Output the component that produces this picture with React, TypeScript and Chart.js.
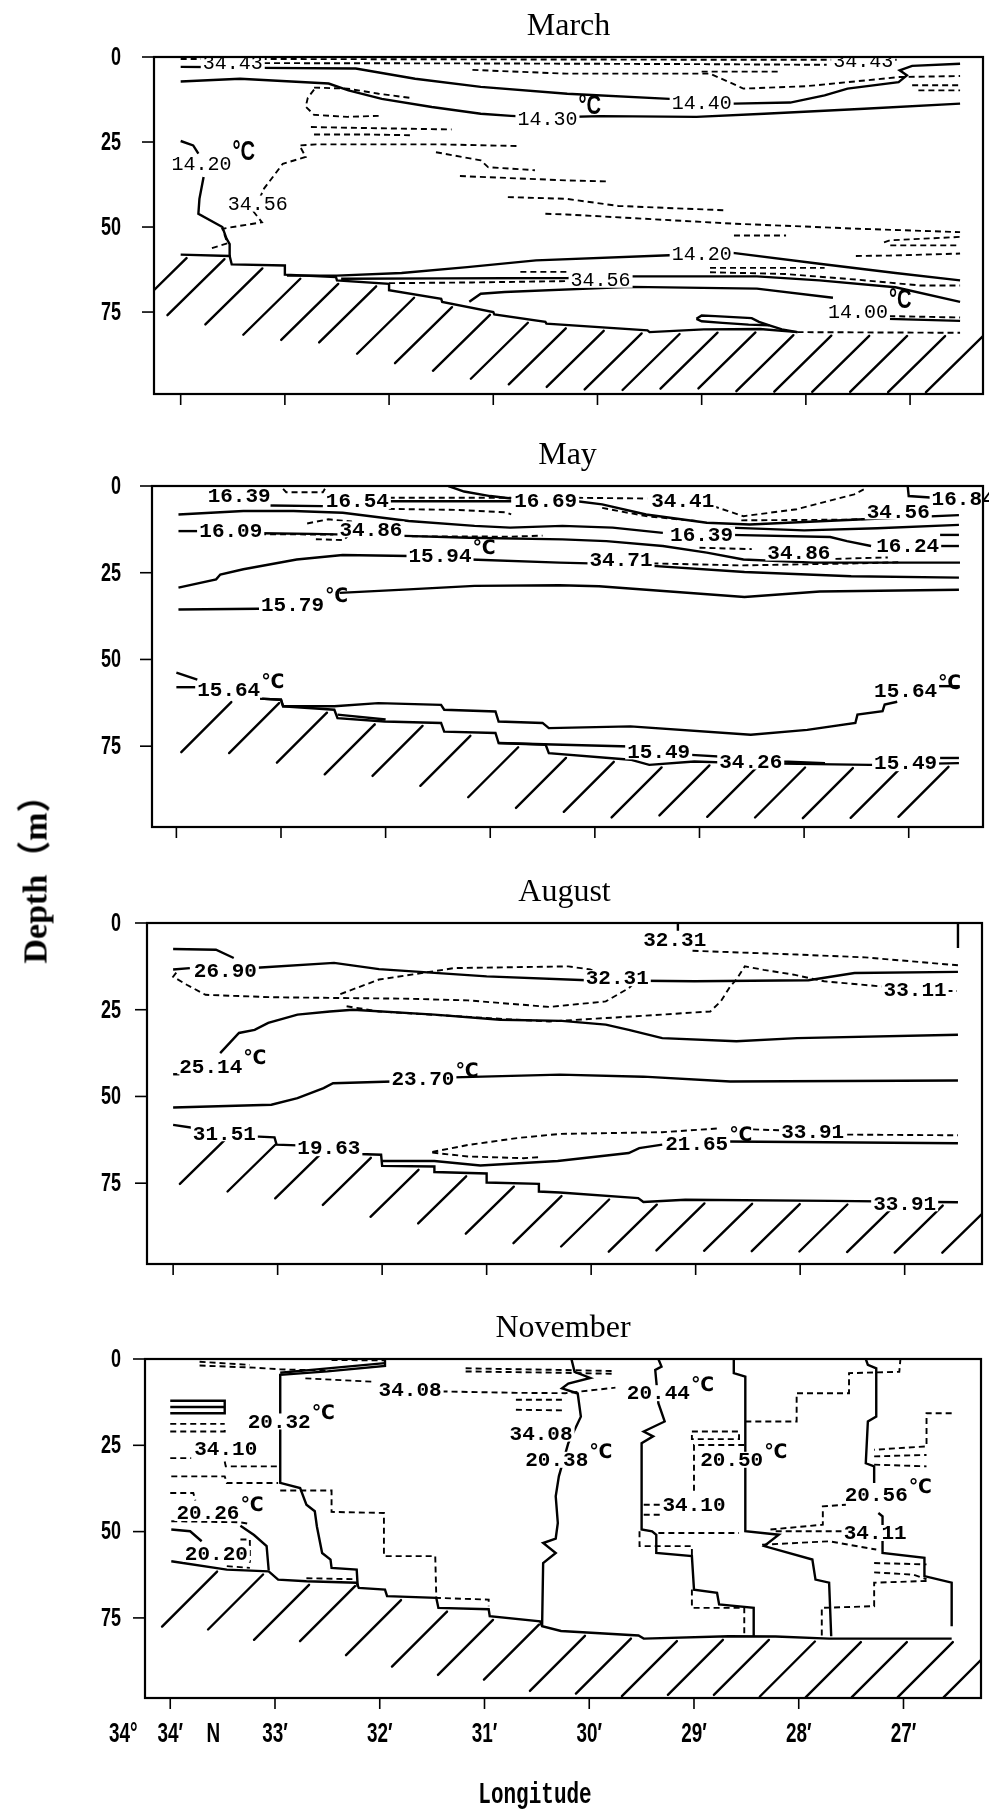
import React, { useEffect, useRef } from "react";
import { Chart, registerables } from "chart.js";

Chart.register(...registerables);

// A point of a section line: [longitude in minutes east of 34°, depth in m]
type Pt = [number, number];

// ---------- shared axes ----------
const lonTicks = [34, 33, 32, 31, 30, 29, 28, 27];
const lonTickLabels = ["34′", "33′", "32′", "31′", "30′", "29′", "28′", "27′"];
const depthTicks = [0, 25, 50, 75];
const depthTickLabels = ["0", "25", "50", "75"];

// ---------- March ----------
const marchSeabed: Pt[] = [[34.0, 58.1], [33.53, 58.5], [33.51, 61.0], [33.0, 61.3], [33.0, 64.0], [32.51, 64.7], [32.5, 65.7], [32.0, 66.7], [32.0, 68.6], [31.5, 71.1], [31.49, 72.0], [31.0, 75.0], [30.99, 75.7], [30.5, 77.9], [30.49, 78.4], [29.52, 80.4], [29.5, 80.9], [28.98, 80.1], [28.44, 80.0], [28.08, 80.9]];
const marchSeabedTail: Pt[] = [[28.08, 80.9], [26.52, 81.1]];
const marchT1440: Pt[] = [[34.0, 2.9], [33.5, 3.0], [33.21, 3.2], [32.32, 3.4], [31.75, 6.4], [31.12, 8.8], [30.29, 10.8], [29.31, 12.3], [28.69, 13.7], [28.15, 13.4], [27.82, 11.3], [27.6, 9.3], [27.11, 7.4], [27.03, 5.4], [27.1, 3.9], [26.98, 2.6], [26.52, 2.0]];
const marchT1430: Pt[] = [[34.0, 7.2], [33.43, 6.4], [32.58, 7.8], [32.39, 9.8], [32.07, 12.3], [31.59, 14.7], [31.12, 16.7], [30.83, 17.3], [30.5, 17.8], [29.97, 17.4], [29.05, 17.6], [28.4, 16.7], [27.44, 15.2], [26.52, 13.7]];
const marchT1420a: Pt[] = [[34.0, 24.7], [33.88, 26.0], [33.83, 28.4]];
const marchT1420b: Pt[] = [[33.78, 35.3], [33.82, 41.7], [33.83, 46.1], [33.6, 50.0], [33.56, 53.4], [33.53, 55.0], [33.53, 58.5]];
const marchT1420c: Pt[] = [[32.98, 64.3], [32.5, 64.3], [31.88, 63.5], [31.25, 61.8], [30.59, 59.8], [29.31, 58.3], [28.7, 57.6], [27.87, 60.8], [27.14, 63.5], [26.52, 65.7]];
const marchS3456low: Pt[] = [[32.46, 65.2], [31.5, 65.1], [30.28, 65.0], [29.68, 64.5], [28.47, 64.5], [27.87, 65.7], [27.14, 67.7], [26.52, 72.0]];
const marchT1400a: Pt[] = [[31.23, 72.0], [31.12, 69.6], [30.89, 69.1], [29.68, 67.6], [28.47, 68.1], [27.74, 70.8]];
const marchT1400b: Pt[] = [[27.21, 77.0], [26.52, 77.6]];
const marchLensTop: Pt[] = [[29.05, 77.0], [29.0, 76.0], [28.87, 76.2], [28.52, 76.8], [28.45, 77.9], [28.35, 78.9], [28.23, 80.1], [28.08, 80.9]];
const marchLensLow: Pt[] = [[29.05, 77.0], [29.0, 77.7], [28.8, 78.2], [28.55, 78.7], [28.35, 78.9]];
const marchS3443: Pt[] = [[34.0, 0.6], [33.0, 0.6], [31.0, 0.7], [29.0, 0.8], [27.1, 0.8]];
const marchS2: Pt[] = [[33.2, 1.8], [31.0, 1.9], [29.0, 2.1], [27.8, 2.3]];
const marchS3: Pt[] = [[31.2, 3.8], [30.3, 4.9], [28.92, 4.9], [28.75, 7.2], [28.6, 9.3], [28.0, 8.6], [27.1, 5.9], [26.52, 5.6]];
const marchS4: Pt[] = [[29.0, 4.3], [28.25, 4.3]];
const marchS5: Pt[] = [[26.98, 8.3], [26.52, 8.3]];
const marchS6: Pt[] = [[26.92, 9.8], [26.52, 9.8]];
const marchS7: Pt[] = [[32.72, 9.0], [32.4, 9.3], [32.1, 10.8], [31.8, 12.0]];
const marchS8: Pt[] = [[32.72, 9.6], [32.78, 12.0], [32.8, 14.6], [32.72, 17.0], [32.4, 17.6], [32.1, 17.3]];
const marchS9: Pt[] = [[32.75, 20.6], [32.2, 20.9], [31.4, 21.3]];
const marchS10: Pt[] = [[32.72, 22.8], [32.2, 22.8], [31.8, 23.0]];
const marchS3456: Pt[] = [[33.7, 56.2], [33.55, 54.8], [33.6, 50.5], [33.22, 48.6], [33.3, 45.5], [33.2, 38.7], [33.02, 31.4], [32.8, 29.4], [32.86, 26.0], [32.7, 25.7], [31.5, 25.7], [30.74, 26.2]];
const marchS12: Pt[] = [[31.55, 28.0], [31.12, 30.4], [31.05, 32.4], [30.6, 33.3]];
const marchS13: Pt[] = [[31.32, 35.0], [30.29, 36.3], [29.9, 36.6]];
const marchS14: Pt[] = [[30.86, 41.2], [30.3, 41.7], [29.8, 43.8], [28.76, 45.1]];
const marchS15: Pt[] = [[30.5, 46.1], [30.3, 46.3], [28.7, 49.0], [27.5, 50.5], [26.52, 51.5]];
const marchS16: Pt[] = [[28.69, 52.5], [28.19, 52.5]];
const marchS17: Pt[] = [[27.25, 54.5], [27.19, 53.9], [26.52, 52.9]];
const marchS18: Pt[] = [[27.19, 55.4], [26.52, 55.4]];
const marchS19: Pt[] = [[27.52, 58.5], [27.2, 58.4], [26.52, 57.8]];
const marchS20: Pt[] = [[28.92, 62.0], [27.82, 62.0]];
const marchS21: Pt[] = [[28.92, 63.3], [28.2, 63.8], [27.5, 65.5], [26.9, 67.2], [26.52, 67.2]];
const marchS22: Pt[] = [[27.2, 76.2], [26.52, 76.6]];
const marchS23: Pt[] = [[30.74, 63.2], [30.29, 63.2]];
const marchS24: Pt[] = [[32.0, 66.5], [31.2, 66.3], [30.3, 65.9]];

// ---------- May ----------
const maySeabed: Pt[] = [[33.2, 61.3], [33.0, 61.6], [32.98, 63.5], [32.49, 64.5], [32.46, 66.9], [32.01, 67.9], [31.47, 68.3], [31.44, 70.8], [30.95, 71.2], [30.92, 74.1], [30.47, 74.6], [30.44, 77.0], [29.66, 78.9], [29.48, 80.4], [29.05, 79.4], [28.57, 79.9], [27.37, 80.4], [26.52, 79.9]];
const mayT1564: Pt[] = [[33.2, 61.3], [33.0, 61.6], [32.98, 63.5], [32.49, 63.5], [32.07, 62.6], [31.47, 63.1], [31.44, 64.5], [30.95, 65.0], [30.92, 67.9], [30.5, 68.3], [30.44, 69.8], [29.66, 69.3], [28.51, 71.7], [27.97, 70.3], [27.51, 68.3], [27.49, 65.9], [27.25, 64.9], [27.23, 63.0], [27.11, 62.2]];
const mayT1564a: Pt[] = [[34.0, 53.8], [33.8, 55.8]];
const mayT1564b: Pt[] = [[34.0, 58.0], [33.8, 58.0]];
const mayT1564c: Pt[] = [[26.72, 57.7], [26.52, 57.7]];
const mayT1549a: Pt[] = [[30.92, 74.1], [30.4, 74.5], [29.66, 75.1]];
const mayT1549b: Pt[] = [[29.08, 77.5], [28.57, 78.4], [28.21, 79.4], [27.8, 79.9]];
const mayT1549c: Pt[] = [[26.7, 78.4], [26.52, 78.4]];
const mayStep: Pt[] = [[32.46, 65.9], [32.0, 67.3]];
const mayU1: Pt[] = [[33.1, 5.6], [32.6, 5.8]];
const mayU2: Pt[] = [[31.97, 4.4], [30.8, 4.4]];
const mayU3: Pt[] = [[31.4, 0.0], [31.25, 1.6], [31.0, 2.9], [30.8, 3.6]];
const mayU4: Pt[] = [[30.17, 4.4], [29.93, 5.3], [29.51, 8.2], [28.93, 10.6], [28.52, 11.1], [27.43, 9.6], [26.52, 8.4]];
const mayU5: Pt[] = [[27.01, 0.0], [27.0, 2.9], [26.76, 3.4]];
const mayU6a: Pt[] = [[33.98, 8.2], [33.36, 7.2], [32.88, 7.2], [32.41, 7.7], [31.78, 10.1], [31.15, 11.5], [30.81, 12.0], [30.31, 11.5], [29.83, 12.0], [29.35, 13.5]];
const mayU6b: Pt[] = [[28.71, 12.0], [28.0, 12.8], [27.3, 12.2], [26.52, 11.2]];
const mayU7a: Pt[] = [[33.98, 13.0], [33.8, 13.0]];
const mayU7b: Pt[] = [[33.2, 13.6], [32.7, 13.8], [31.9, 14.3], [31.2, 14.9], [30.31, 15.4], [29.89, 15.9], [29.35, 17.3], [28.93, 19.2], [28.58, 21.2], [27.91, 22.1], [26.51, 22.1]];
const mayU9: Pt[] = [[28.71, 14.1], [27.75, 14.7], [27.59, 15.9], [27.36, 17.3]];
const mayU9a: Pt[] = [[26.7, 14.1], [26.52, 14.1]];
const mayU9b: Pt[] = [[26.7, 17.3], [26.52, 17.3]];
const mayT1594a: Pt[] = [[33.98, 29.3], [33.62, 26.9], [33.58, 25.5], [33.36, 24.0], [32.85, 21.2], [32.41, 19.9], [31.78, 20.2]];
const mayT1594b: Pt[] = [[31.19, 21.2], [30.34, 22.1], [29.66, 22.6], [28.57, 24.8], [27.55, 26.0], [26.52, 26.4]];
const mayT1579a: Pt[] = [[33.98, 35.6], [33.21, 35.4]];
const mayT1579b: Pt[] = [[32.44, 30.8], [31.78, 29.8], [31.15, 28.8], [30.34, 28.6], [29.96, 28.9], [28.57, 32.0], [27.85, 30.4], [26.52, 29.9]];
const mayD1: Pt[] = [[32.98, 0.8], [32.95, 1.8], [32.6, 1.8], [32.58, 0.8]];
const mayD2: Pt[] = [[31.97, 3.4], [30.8, 3.4]];
const mayD3: Pt[] = [[31.97, 6.6], [31.3, 6.9], [30.85, 7.6], [30.8, 8.2]];
const mayD4: Pt[] = [[30.17, 3.4], [29.5, 3.6]];
const mayD5: Pt[] = [[28.87, 5.8], [28.58, 8.7], [28.07, 6.7], [27.52, 2.4], [27.43, 1.0]];
const mayD6: Pt[] = [[29.93, 6.3], [29.51, 8.7], [29.03, 10.1]];
const mayD7: Pt[] = [[28.6, 9.9], [27.6, 9.7], [27.38, 9.5]];
const mayD8: Pt[] = [[32.75, 10.8], [32.55, 9.6], [32.33, 10.2], [32.3, 12.6], [32.4, 15.6], [32.7, 15.3]];
const mayD9: Pt[] = [[33.2, 13.9], [32.5, 14.0]];
const mayD10: Pt[] = [[31.75, 14.5], [30.8, 14.6], [30.5, 14.3]];
const mayD11: Pt[] = [[29.45, 22.3], [28.6, 22.9], [27.5, 22.3], [27.1, 22.0]];
const mayD12: Pt[] = [[29.0, 17.8], [28.5, 18.2]];
const mayD13: Pt[] = [[27.7, 21.0], [27.2, 20.6]];

// ---------- August ----------
const augSeabed: Pt[] = [[34.0, 58.2], [33.8, 59.1], [33.5, 60.6], [33.23, 61.5], [33.03, 61.8], [33.01, 63.9], [32.81, 64.1], [32.5, 65.0], [32.22, 66.6], [32.01, 66.8], [32.0, 70.0], [31.5, 70.2], [31.5, 71.8], [31.0, 72.2], [31.0, 74.8], [30.5, 75.2], [30.5, 77.4], [30.3, 77.7], [29.55, 79.3], [29.5, 80.4], [29.1, 79.8], [27.7, 80.1], [26.49, 80.5]];
const augT1: Pt[] = [[34.0, 7.5], [33.59, 7.7], [33.42, 10.1]];
const augT2690a: Pt[] = [[34.0, 13.4], [33.84, 13.0]];
const augT2690b: Pt[] = [[33.2, 12.9], [32.46, 11.5], [32.03, 13.3], [31.0, 15.4], [30.04, 16.5], [29.01, 16.8], [27.92, 16.5], [27.48, 14.4], [26.49, 14.1]];
const augT2514: Pt[] = [[33.55, 37.5], [33.37, 31.7], [33.22, 30.8], [33.09, 28.8], [32.81, 26.4], [32.5, 25.5], [32.28, 25.0], [31.5, 26.4], [30.87, 27.9], [30.28, 28.2], [29.86, 29.3], [29.64, 30.8], [29.32, 33.2], [28.61, 34.1], [28.03, 33.2], [26.49, 32.2]];
const augT2514a: Pt[] = [[34.0, 43.6], [33.94, 43.6]];
const augT2370a: Pt[] = [[34.0, 53.2], [33.06, 52.4], [32.81, 50.5], [32.56, 47.6], [32.47, 46.2], [31.9, 45.7]];
const augT2370b: Pt[] = [[31.32, 44.5], [30.3, 43.7], [29.5, 44.3], [28.67, 45.7], [26.49, 45.4]];
const augT2165a: Pt[] = [[32.0, 68.6], [31.5, 68.6], [31.06, 69.9], [30.32, 68.6], [29.64, 66.3], [29.54, 64.9], [29.32, 63.9]];
const augT2165b: Pt[] = [[28.7, 63.0], [26.49, 63.5]];
const augRight: Pt[] = [[26.49, 0.0], [26.49, 7.2]];
const augMark: Pt[] = [[29.17, 0.0], [29.17, 2.2]];
const augSA: Pt[] = [[33.97, 14.3], [34.0, 15.5], [33.87, 17.8], [33.69, 20.7], [33.06, 21.4], [32.47, 21.6], [31.8, 21.8], [31.18, 22.3], [30.4, 24.2], [29.86, 22.6], [29.64, 18.8], [29.59, 17.3]];
const augSB: Pt[] = [[32.4, 20.5], [32.03, 16.3], [31.31, 13.0], [30.22, 12.5], [30.01, 13.4], [29.9, 14.8]];
const augSC: Pt[] = [[32.34, 24.0], [32.03, 25.5], [31.0, 27.4], [30.4, 28.4], [29.32, 26.4], [28.86, 25.5], [28.76, 22.6], [28.67, 18.3], [28.61, 16.3], [28.53, 12.5], [28.35, 13.5], [28.06, 14.9], [27.77, 16.8], [27.22, 18.3]];
const augSC2: Pt[] = [[26.6, 19.6], [26.5, 19.6]];
const augSTop: Pt[] = [[29.03, 8.0], [28.03, 9.1], [27.38, 9.9], [26.49, 12.2]];
const augSLensU: Pt[] = [[31.52, 66.0], [31.18, 64.0], [30.71, 62.0], [30.3, 60.8], [29.32, 60.3], [28.77, 59.2]];
const augSLensU2: Pt[] = [[28.45, 59.5], [28.15, 59.8]];
const augSLensU3: Pt[] = [[27.55, 61.0], [26.49, 61.2]];
const augSLensL: Pt[] = [[31.52, 66.2], [31.18, 67.3], [30.65, 67.8], [30.5, 67.5]];

// ---------- November ----------
const novSeabed: Pt[] = [[33.99, 58.6], [33.46, 61.0], [33.06, 61.5], [32.97, 63.9], [32.7, 64.4], [32.22, 64.8], [32.2, 66.3], [31.95, 66.8], [31.93, 68.7], [31.46, 69.2], [31.44, 72.1], [30.96, 72.5], [30.95, 74.5], [30.47, 76.0], [30.45, 77.4], [30.27, 78.8], [29.53, 80.1], [29.48, 81.0], [28.67, 80.3], [28.22, 80.4], [27.71, 81.0], [26.54, 81.0]];
const novT2032: Pt[] = [[31.95, 0.0], [31.95, 2.0], [32.5, 3.6], [32.95, 4.6], [32.95, 35.9], [32.76, 37.4], [32.7, 42.2], [32.62, 44.1], [32.6, 48.5], [32.55, 56.2], [32.47, 58.1], [32.46, 60.5], [32.22, 61.0], [32.21, 66.0]];
const novWedge: Pt[] = [[31.95, 1.2], [32.6, 3.0], [32.95, 4.0]];
const novT2038: Pt[] = [[30.17, 0.0], [30.14, 3.7], [29.99, 5.5], [30.2, 7.1], [30.26, 8.5], [30.11, 10.0], [30.08, 16.7], [30.2, 24.4], [30.29, 34.0], [30.32, 39.8], [30.3, 47.5], [30.32, 52.0], [30.44, 53.3], [30.32, 56.2], [30.44, 59.1], [30.45, 77.4]];
const novT2044: Pt[] = [[29.34, 0.0], [29.31, 2.2], [29.37, 3.2], [29.34, 12.8], [29.28, 18.1], [29.48, 21.0], [29.39, 22.4], [29.5, 24.4], [29.5, 49.4], [29.4, 49.9], [29.36, 50.9], [29.36, 56.2], [29.02, 57.1], [29.0, 66.8], [28.78, 67.7], [28.76, 71.1], [28.43, 72.1], [28.43, 80.3]];
const novT2050: Pt[] = [[28.62, 0.0], [28.62, 4.1], [28.51, 5.1], [28.51, 49.9], [28.19, 50.9], [28.33, 54.2], [27.87, 58.1], [27.84, 63.9], [27.71, 64.8], [27.69, 80.3]];
const novT2056a: Pt[] = [[27.36, 0.0], [27.34, 1.7], [27.26, 2.7], [27.26, 16.7], [27.34, 18.1], [27.36, 30.2], [27.28, 31.1], [27.28, 35.9]];
const novT2056b: Pt[] = [[27.24, 44.6], [27.2, 45.6], [27.2, 56.2], [26.8, 57.6], [26.8, 62.9], [26.54, 64.8], [26.54, 77.4]];
const novBoxA: Pt[] = [[34.0, 12.1], [33.48, 12.1], [33.48, 15.7], [34.0, 15.7]];
const novBoxB: Pt[] = [[34.0, 13.9], [33.48, 13.9]];
const novT2020a: Pt[] = [[33.99, 49.4], [33.81, 49.9], [33.7, 52.8]];
const novT2026: Pt[] = [[33.33, 48.3], [33.2, 51.0], [33.08, 54.2], [33.06, 61.2]];
const novSTl1: Pt[] = [[33.72, 0.8], [33.24, 1.7]];
const novSTl2: Pt[] = [[33.72, 1.9], [33.2, 2.5], [32.95, 3.0], [32.47, 3.4]];
const novSTl3: Pt[] = [[32.46, 0.3], [31.95, 0.4], [31.95, 1.8]];
const novSTop1: Pt[] = [[32.71, 5.6], [32.06, 6.6]];
const novSTop2: Pt[] = [[31.41, 9.4], [30.69, 9.8], [30.23, 9.9], [29.75, 8.3]];
const novSTop3: Pt[] = [[31.18, 2.7], [30.23, 3.2], [29.75, 3.5]];
const novSTop4: Pt[] = [[31.18, 3.6], [30.23, 4.0], [29.75, 4.3]];
const novSTop5: Pt[] = [[30.7, 11.8], [30.23, 11.8]];
const novSTop6: Pt[] = [[30.7, 14.7], [30.23, 14.9]];
const novSStep: Pt[] = [[32.95, 38.1], [32.46, 38.1], [32.46, 44.3], [31.96, 44.6], [31.96, 57.1], [31.47, 57.1], [31.46, 69.2], [30.96, 69.7], [30.96, 71.6]];
const novSL1: Pt[] = [[33.48, 29.7], [33.47, 31.1], [32.97, 31.1]];
const novSL2: Pt[] = [[33.99, 34.0], [33.48, 34.0], [33.46, 35.9], [32.97, 35.9]];
const novSL3: Pt[] = [[34.0, 28.7], [33.8, 28.7]];
const novSL4: Pt[] = [[34.0, 18.8], [33.48, 18.8]];
const novSL4b: Pt[] = [[34.0, 21.0], [33.48, 21.0], [33.48, 19.5]];
const novSL5: Pt[] = [[34.0, 38.8], [33.78, 38.8], [33.76, 41.0]];
const novSL6: Pt[] = [[33.99, 47.0], [33.33, 47.3], [33.24, 47.8]];
const novSL7: Pt[] = [[33.33, 52.3], [33.24, 52.3], [33.24, 59.0]];
const novSL8: Pt[] = [[33.46, 60.0], [33.24, 60.5]];
const novSB1: Pt[] = [[32.7, 63.5], [32.22, 63.8]];
const novSStair: Pt[] = [[28.51, 18.1], [28.02, 18.1], [28.02, 9.9], [27.52, 9.9], [27.52, 4.1], [27.04, 3.7], [27.03, 0.3]];
const novSBox: Pt[] = [[29.02, 21.0], [28.57, 21.0], [28.57, 23.2], [29.02, 23.2], [29.02, 21.0]];
const novSV: Pt[] = [[28.52, 24.9], [29.0, 24.9], [29.0, 38.8]];
const novS1: Pt[] = [[28.27, 49.4], [27.77, 48.0], [27.77, 42.7], [27.55, 42.2]];
const novS2: Pt[] = [[28.22, 49.9], [27.55, 49.9]];
const novS3: Pt[] = [[28.35, 53.8], [27.71, 52.8], [27.26, 55.2]];
const novS4: Pt[] = [[27.28, 59.1], [26.78, 59.5]];
const novS5: Pt[] = [[27.28, 61.8], [26.9, 62.5], [26.78, 63.8]];
const novS6: Pt[] = [[26.78, 64.3], [27.28, 64.8], [27.28, 71.6], [27.78, 72.1], [27.78, 80.3]];
const novS7: Pt[] = [[29.52, 49.9], [29.52, 54.2], [29.02, 54.2], [29.02, 57.1]];
const novS8: Pt[] = [[29.02, 66.8], [29.02, 72.1], [28.52, 72.1], [28.52, 80.3]];
const novS9: Pt[] = [[29.34, 50.4], [28.57, 50.4]];
const novSR1: Pt[] = [[26.54, 15.7], [26.78, 15.7], [26.78, 25.3], [27.28, 26.3]];
const novSR2: Pt[] = [[27.28, 28.2], [26.78, 27.8]];
const novSR3: Pt[] = [[27.28, 30.6], [26.78, 31.1]];
const novSR4: Pt[] = [[29.48, 42.2], [29.31, 42.2]];
const novSR5: Pt[] = [[29.48, 45.1], [29.31, 45.1]];

// ---------- contour labels ----------
interface Label { t: string; x: number; y: number; u?: boolean; free?: boolean }

const marchLabels: Label[] = [
  { t: "34.43", x: 33.5, y: 1.6 }, { t: "34.43", x: 27.45, y: 1.0 },
  { t: "14.40", x: 29.0, y: 13.5 }, { t: "14.30", x: 30.48, y: 18.0, u: true },
  { t: "14.20", x: 33.8, y: 31.4, u: true }, { t: "34.56", x: 33.26, y: 43.1 },
  { t: "14.20", x: 29.0, y: 57.9 }, { t: "34.56", x: 29.97, y: 65.5 },
  { t: "14.00", x: 27.5, y: 75.0, u: true },
];
const mayLabels: Label[] = [
  { t: "16.39", x: 33.4, y: 2.9 }, { t: "16.54", x: 32.27, y: 4.3 }, { t: "16.69", x: 30.47, y: 4.3 },
  { t: "34.41", x: 29.16, y: 4.3 }, { t: "34.56", x: 27.1, y: 7.3 }, { t: "16.84", x: 26.48, y: 3.8, free: true },
  { t: "16.09", x: 33.48, y: 13.0 }, { t: "34.86", x: 32.14, y: 12.5 }, { t: "16.39", x: 28.98, y: 13.9 },
  { t: "16.24", x: 27.01, y: 17.3 }, { t: "15.94", x: 31.48, y: 20.2, u: true }, { t: "34.71", x: 29.75, y: 21.2 },
  { t: "34.86", x: 28.05, y: 19.2 }, { t: "15.79", x: 32.89, y: 34.1, u: true },
  { t: "15.64", x: 33.5, y: 58.7, u: true }, { t: "15.64", x: 27.03, y: 59.1, u: true },
  { t: "15.49", x: 29.39, y: 76.5 }, { t: "34.26", x: 28.51, y: 79.4 }, { t: "15.49", x: 27.03, y: 79.9 },
];
const augLabels: Label[] = [
  { t: "32.31", x: 29.2, y: 4.8 }, { t: "26.90", x: 33.5, y: 13.8 }, { t: "32.31", x: 29.75, y: 15.9 },
  { t: "33.11", x: 26.9, y: 19.3 }, { t: "25.14", x: 33.64, y: 41.3, u: true }, { t: "23.70", x: 31.61, y: 45.0, u: true },
  { t: "31.51", x: 33.51, y: 60.6 }, { t: "19.63", x: 32.51, y: 64.9 }, { t: "21.65", x: 28.99, y: 63.5, u: true },
  { t: "33.91", x: 27.88, y: 60.1 }, { t: "33.91", x: 27.0, y: 80.8 },
];
const novLabels: Label[] = [
  { t: "34.08", x: 31.71, y: 9.0 }, { t: "20.44", x: 29.34, y: 9.9, u: true }, { t: "20.32", x: 32.96, y: 18.1, u: true },
  { t: "34.08", x: 30.46, y: 21.6 }, { t: "34.10", x: 33.47, y: 26.1 }, { t: "20.38", x: 30.31, y: 29.2, u: true },
  { t: "20.50", x: 28.64, y: 29.2, u: true }, { t: "20.56", x: 27.26, y: 39.3, u: true }, { t: "34.10", x: 29.0, y: 42.2 },
  { t: "20.26", x: 33.64, y: 44.6, u: true }, { t: "34.11", x: 27.27, y: 50.4 }, { t: "20.20", x: 33.56, y: 56.4 },
];

// ---------- panel layout ----------
interface Hatch { start: number; step: number; count: number; dx: number; dy: number }
interface Panel {
  title: string;
  frame: { left: number; right: number; top: number; bottom: number };
  lonMin: number; lonMax: number; depthMax: number;
  solid: Pt[][]; dashed: Pt[][]; seabed: Pt[]; hatchLine: Pt[];
  hatch: Hatch;
  labels: Label[];
  labelFont: string;
  unit: { text: string; font: string; dy: number; sx: number };
  lonLabels: boolean;
  bottomSpace: number;
}

const TOP_PAD = 56;
const W = 989;
const DEPTH_LABEL_RIGHT = 121; // right edge of the depth tick labels

const marchUnit = { text: "°C", font: 'bold 28px "Liberation Sans"', dy: -4, sx: 0.72 };
const boldUnit = { text: "℃", font: 'bold 20px "DejaVu Sans", "Noto Sans CJK SC"', dy: -2, sx: 0.95 };

const panels: Panel[] = [
  {
    title: "March",
    frame: { left: 154, right: 983, top: 57, bottom: 394 },
    lonMin: 26.3, lonMax: 34.256, depthMax: 99.1,
    solid: [marchT1440, marchT1430, marchT1420a, marchT1420b, marchT1420c, marchS3456low, marchT1400a, marchT1400b, marchLensTop, marchLensLow],
    dashed: [marchSeabedTail, marchS3443, marchS2, marchS3, marchS4, marchS5, marchS6, marchS7, marchS8, marchS9, marchS10, marchS3456, marchS12, marchS13, marchS14, marchS15, marchS16, marchS17, marchS18, marchS19, marchS20, marchS21, marchS22, marchS23, marchS24],
    seabed: marchSeabed, hatchLine: [...marchSeabed, ...marchSeabedTail],
    hatch: { start: 26.3, step: 0.364, count: 22, dx: 57, dy: 56 },
    labels: marchLabels, labelFont: '20px "Liberation Mono"', unit: marchUnit,
    lonLabels: false, bottomSpace: 20,
  },
  {
    title: "May",
    frame: { left: 152, right: 983, top: 486, bottom: 827 },
    lonMin: 26.29, lonMax: 34.233, depthMax: 98.3,
    solid: [mayT1564, mayT1564a, mayT1564b, mayT1564c, mayT1549a, mayT1549b, mayT1549c, mayStep, mayU1, mayU2, mayU3, mayU4, mayU5, mayU6a, mayU6b, mayU7a, mayU7b, mayU9, mayU9a, mayU9b, mayT1594a, mayT1594b, mayT1579a, mayT1579b],
    dashed: [mayD1, mayD2, mayD3, mayD4, mayD5, mayD6, mayD7, mayD8, mayD9, mayD10, mayD11, mayD12, mayD13],
    seabed: maySeabed, hatchLine: maySeabed,
    hatch: { start: 26.62, step: 0.457, count: 16, dx: 50, dy: 50 },
    labels: mayLabels, labelFont: 'bold 21px "Liberation Mono"', unit: boldUnit,
    lonLabels: false, bottomSpace: 20,
  },
  {
    title: "August",
    frame: { left: 147, right: 982, top: 923, bottom: 1264 },
    lonMin: 26.26, lonMax: 34.25, depthMax: 98.3,
    solid: [augT1, augT2690a, augT2690b, augT2514, augT2514a, augT2370a, augT2370b, augT2165a, augT2165b, augRight, augMark],
    dashed: [augSA, augSB, augSC, augSC2, augSTop, augSLensU, augSLensU2, augSLensU3, augSLensL],
    seabed: augSeabed, hatchLine: augSeabed,
    hatch: { start: 26.18, step: 0.456, count: 17, dx: 48, dy: 47 },
    labels: augLabels, labelFont: 'bold 21px "Liberation Mono"', unit: boldUnit,
    lonLabels: false, bottomSpace: 20,
  },
  {
    title: "November",
    frame: { left: 145, right: 981, top: 1359, bottom: 1698 },
    lonMin: 26.26, lonMax: 34.241, depthMax: 98.2,
    solid: [novT2032, novWedge, novT2038, novT2044, novT2050, novT2056a, novT2056b, novBoxA, novBoxB, novT2020a, novT2026],
    dashed: [novSTl1, novSTl2, novSTl3, novSTop1, novSTop2, novSTop3, novSTop4, novSTop5, novSTop6, novSStep, novSL1, novSL2, novSL3, novSL4, novSL4b, novSL5, novSL6, novSL7, novSL8, novSB1, novSStair, novSBox, novSV, novS1, novS2, novS3, novS4, novS5, novS6, novS7, novS8, novS9, novSR1, novSR2, novSR3, novSR4, novSR5],
    seabed: novSeabed, hatchLine: novSeabed,
    hatch: { start: 26.09, step: 0.439, count: 18, dx: 55, dy: 55 },
    labels: novLabels, labelFont: 'bold 21px "Liberation Mono"', unit: boldUnit,
    lonLabels: true, bottomSpace: 114,
  },
];

// depth of a line (ordered from west to east) at a given longitude
function depthAt(line: Pt[], lon: number): number {
  if (lon >= line[0][0]) return line[0][1];
  const last = line[line.length - 1];
  if (lon <= last[0]) return last[1];
  for (let i = 0; i < line.length - 1; i++) {
    const [x0, y0] = line[i];
    const [x1, y1] = line[i + 1];
    if (lon <= x0 && lon >= x1 && x0 !== x1) return y0 + ((y1 - y0) * (lon - x0)) / (x1 - x0);
  }
  return last[1];
}

function condensedText(ctx: CanvasRenderingContext2D, text: string, x: number, y: number, sx: number) {
  ctx.save();
  ctx.translate(x, y);
  ctx.scale(sx, 1);
  ctx.fillText(text, 0, 0);
  ctx.restore();
}

function decorPlugin(p: Panel) {
  return {
    id: "sectionDecor",
    afterDraw(chart: any) {
      const { ctx, chartArea: a, scales } = chart;
      const xs = scales.x;
      const ys = scales.y;
      ctx.save();

      // seabed hatching
      ctx.save();
      ctx.beginPath();
      ctx.rect(a.left, a.top, a.right - a.left, a.bottom - a.top);
      ctx.clip();
      ctx.strokeStyle = "#000";
      ctx.lineWidth = 2.4;
      ctx.lineCap = "round";
      for (let i = 0; i < p.hatch.count; i++) {
        const lon = p.hatch.start + i * p.hatch.step;
        const d = depthAt(p.hatchLine, lon) + 1;
        const px = xs.getPixelForValue(lon);
        const py = ys.getPixelForValue(d);
        ctx.beginPath();
        ctx.moveTo(px, py);
        ctx.lineTo(px - p.hatch.dx, py + p.hatch.dy);
        ctx.stroke();
      }
      ctx.restore();

      // contour labels
      for (const lab of p.labels) {
        const px = xs.getPixelForValue(lab.x);
        const py = ys.getPixelForValue(lab.y);
        ctx.save();
        if (!lab.free) {
          ctx.beginPath();
          ctx.rect(a.left, a.top, a.right - a.left, a.bottom - a.top);
          ctx.clip();
        }
        ctx.font = p.labelFont;
        const w = ctx.measureText(lab.t).width;
        ctx.fillStyle = "#fff";
        ctx.fillRect(px - w / 2 - 2, py - 8, w + 4, 16);
        ctx.fillStyle = "#000";
        ctx.textAlign = "center";
        ctx.textBaseline = "middle";
        ctx.fillText(lab.t, px, py + 1);
        if (lab.u) {
          ctx.font = p.unit.font;
          ctx.textAlign = "left";
          ctx.textBaseline = "alphabetic";
          condensedText(ctx, p.unit.text, px + w / 2 + 1, py + p.unit.dy, p.unit.sx);
        }
        ctx.restore();
      }

      // frame
      ctx.strokeStyle = "#000";
      ctx.lineWidth = 2.2;
      ctx.strokeRect(a.left, a.top, a.right - a.left, a.bottom - a.top);

      // tick marks and tick labels
      ctx.lineWidth = 1.6;
      ctx.fillStyle = "#000";
      ctx.font = 'bold 25px "Liberation Sans"';
      ctx.textBaseline = "middle";
      depthTicks.forEach((v, i) => {
        const py = ys.getPixelForValue(v);
        ctx.beginPath();
        ctx.moveTo(a.left - 12, py);
        ctx.lineTo(a.left, py);
        ctx.stroke();
        ctx.textAlign = "right";
        condensedText(ctx, depthTickLabels[i], DEPTH_LABEL_RIGHT, py + 1, 0.72);
      });
      ctx.font = 'bold 27px "Liberation Sans"';
      lonTicks.forEach((v, i) => {
        const px = xs.getPixelForValue(v);
        ctx.beginPath();
        ctx.moveTo(px, a.bottom);
        ctx.lineTo(px, a.bottom + 11);
        ctx.stroke();
        if (p.lonLabels) {
          ctx.textAlign = "center";
          condensedText(ctx, lonTickLabels[i], px, a.bottom + 37, 0.7);
        }
      });
      if (p.lonLabels) {
        const x34 = xs.getPixelForValue(lonTicks[0]);
        ctx.textAlign = "center";
        condensedText(ctx, "34°", x34 - 47, a.bottom + 37, 0.7);
        condensedText(ctx, "N", x34 + 43, a.bottom + 37, 0.7);
        ctx.font = 'bold 30px "Liberation Mono"';
        condensedText(ctx, "Longitude", 535, a.bottom + 97, 0.7);
      }

      // panel title
      ctx.font = '32px "Liberation Serif"';
      ctx.textAlign = "center";
      ctx.textBaseline = "alphabetic";
      ctx.fillText(p.title, (a.left + a.right) / 2, a.top - 22);
      ctx.restore();
    },
  };
}

function buildConfig(p: Panel): any {
  const toData = (line: Pt[]) => line.map(([x, y]) => ({ x, y }));
  const base = { pointRadius: 0, borderColor: "#000", fill: false, tension: 0 };
  const datasets = [
    ...p.solid.map((l) => ({ ...base, data: toData(l), borderWidth: 2.4 })),
    ...p.dashed.map((l) => ({ ...base, data: toData(l), borderWidth: 1.9, borderDash: [6, 4] })),
    { ...base, data: toData(p.seabed), borderWidth: 2.4 },
  ];
  return {
    type: "line",
    data: { datasets },
    options: {
      responsive: false,
      animation: false,
      events: [],
      layout: { padding: { top: TOP_PAD, right: W - p.frame.right, left: 0, bottom: 0 } },
      plugins: { legend: { display: false }, tooltip: { enabled: false }, title: { display: false } },
      scales: {
        x: {
          type: "linear", reverse: true, min: p.lonMin, max: p.lonMax,
          grid: { display: false }, border: { display: false }, ticks: { display: false },
          afterBuildTicks: (s: any) => { s.ticks = lonTicks.map((v) => ({ value: v })); },
          afterFit: (s: any) => { s.height = p.bottomSpace; },
        },
        y: {
          type: "linear", reverse: true, min: 0, max: p.depthMax,
          grid: { display: false }, border: { display: false }, ticks: { display: false },
          afterBuildTicks: (s: any) => { s.ticks = depthTicks.map((v) => ({ value: v })); },
          afterFit: (s: any) => { s.width = p.frame.left; },
        },
      },
    },
    plugins: [decorPlugin(p)],
  };
}

function SectionPanel({ p }: { p: Panel }) {
  const ref = useRef<HTMLCanvasElement>(null);
  useEffect(() => {
    const chart = new Chart(ref.current as HTMLCanvasElement, buildConfig(p));
    return () => chart.destroy();
  }, [p]);
  const top = p.frame.top - TOP_PAD;
  const h = p.frame.bottom - p.frame.top + TOP_PAD + p.bottomSpace;
  return (
    <canvas
      ref={ref}
      width={W}
      height={h}
      style={{ position: "absolute", left: 0, top, width: W, height: h }}
    />
  );
}

export default function App() {
  return (
    <div style={{ position: "absolute", left: 0, top: 0, width: W, height: 1812, background: "#fff", overflow: "hidden" }}>
      {panels.map((p) => (
        <SectionPanel key={p.title} p={p} />
      ))}
      <div
        style={{
          position: "absolute", left: 32, top: 871, transform: "translate(-50%, -50%) rotate(-90deg)",
          whiteSpace: "nowrap", font: 'bold 34px "Liberation Serif", "Noto Sans CJK SC"', color: "#000",
        }}
      >
        Depth（m）
      </div>
    </div>
  );
}
